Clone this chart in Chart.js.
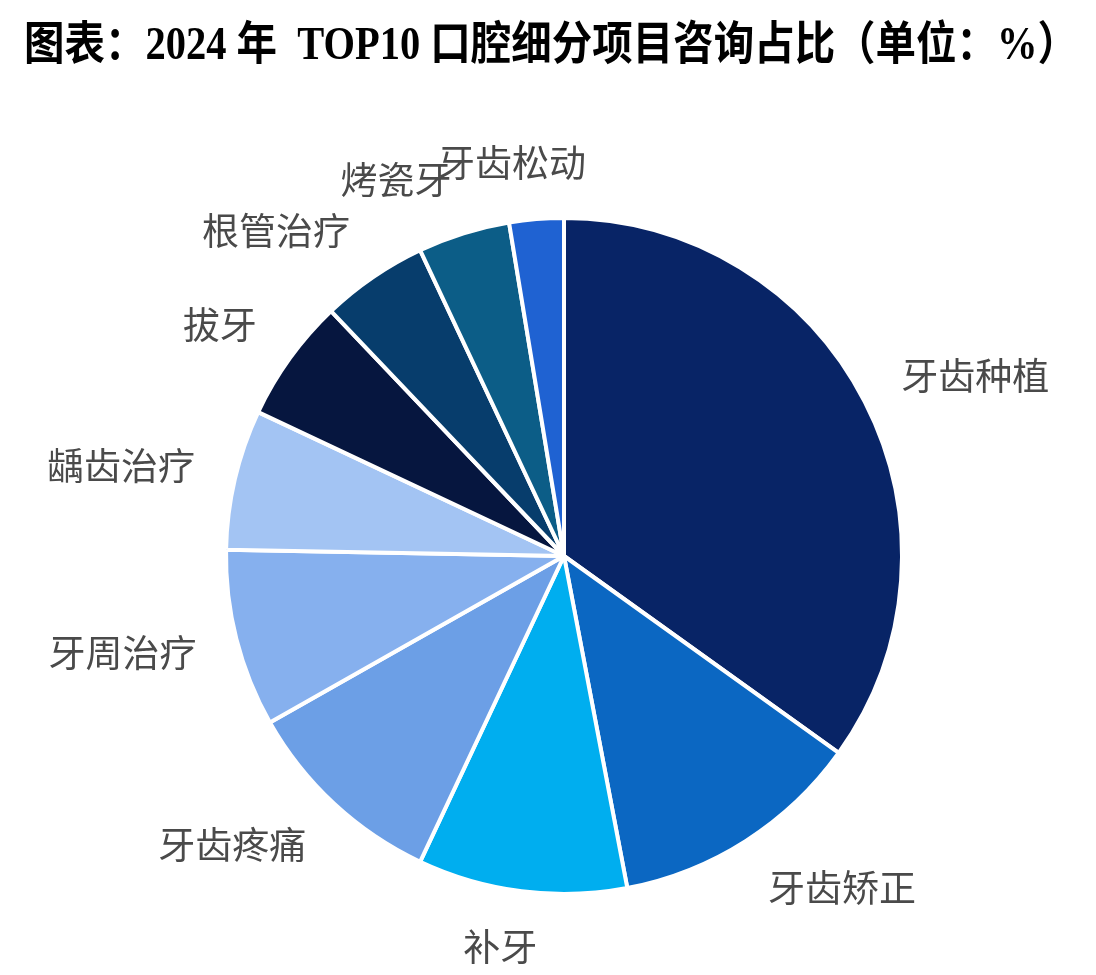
<!DOCTYPE html>
<html>
<head>
<meta charset="utf-8">
<script src="https://cdn.jsdelivr.net/npm/chart.js@4.4.1/dist/chart.umd.min.js"></script>
<style>
  html, body { margin: 0; padding: 0; background: #ffffff; }
  #wrap { position: relative; width: 1096px; height: 975px; overflow: hidden; }
  #title {
    position: absolute; left: -197px; top: 14px; width: 1496px; text-align: center;
    font-family: "Liberation Serif", "Noto Sans CJK SC", serif; font-weight: bold;
    font-size: 46px; line-height: 60px; color: #000; white-space: nowrap;
    transform: scaleX(0.88); transform-origin: 50% 0;
  }
  #chart { position: absolute; left: 0; top: 0; }
</style>
</head>
<body>
<div id="wrap">
  <canvas id="chart" width="1096" height="975"></canvas>
  <div id="title">图表：2024 年&nbsp; TOP10 口腔细分项目咨询占比（单位：%）</div>
</div>
<script>
const categories = ["牙齿种植", "牙齿矫正", "补牙", "牙齿疼痛", "牙周治疗", "龋齿治疗", "拔牙", "根管治疗", "烤瓷牙", "牙齿松动"];
const shares = [34.9, 12.1, 10.0, 9.8, 8.5, 6.7, 5.9, 5.1, 4.4, 2.6];
const sliceColors = ["#082466", "#0b67c2", "#00aeef", "#6c9fe6", "#86b0ee", "#a3c4f3", "#06163f", "#073d6c", "#0c5d87", "#1f62d2"];

const outsideLabels = {
  id: 'outsideLabels',
  afterDatasetsDraw(chart) {
    const ctx = chart.ctx;
    const meta = chart.getDatasetMeta(0);
    ctx.save();
    ctx.font = '37px "Noto Sans CJK SC", "Noto Sans", sans-serif';
    ctx.fillStyle = '#4a4a4a';
    ctx.textBaseline = 'middle';
    ctx.textAlign = 'left';
    meta.data.forEach((arc, i) => {
      const p = arc.getProps(['x', 'y', 'startAngle', 'endAngle', 'outerRadius'], true);
      const mid = (p.startAngle + p.endAngle) / 2;
      // angle measured clockwise from 12 o'clock
      const th = mid + Math.PI / 2;
      const s = Math.sin(th), c = Math.cos(th);
      const gap = 41, extraV = 15;
      const ax = p.x + (p.outerRadius + gap) * s;
      const ay = p.y - (p.outerRadius + gap + extraV) * c;
      const text = categories[i];
      const w = ctx.measureText(text).width;
      let frac = (1 - 3.5 * s) / 2;
      frac = Math.max(0, Math.min(1, frac));
      ctx.fillText(text, ax - w * frac, ay);
    });
    ctx.restore();
  }
};

new Chart(document.getElementById('chart'), {
  type: 'pie',
  data: {
    labels: categories,
    datasets: [{
      data: shares,
      backgroundColor: sliceColors,
      borderColor: '#ffffff',
      borderWidth: 4
    }]
  },
  options: {
    responsive: false,
    devicePixelRatio: 1,
    animation: false,
    layout: { padding: { left: 224, right: 192, top: 216, bottom: 79 } },
    plugins: {
      legend: { display: false },
      tooltip: { enabled: false },
      title: { display: false }
    }
  },
  plugins: [outsideLabels]
});
</script>
</body>
</html>
